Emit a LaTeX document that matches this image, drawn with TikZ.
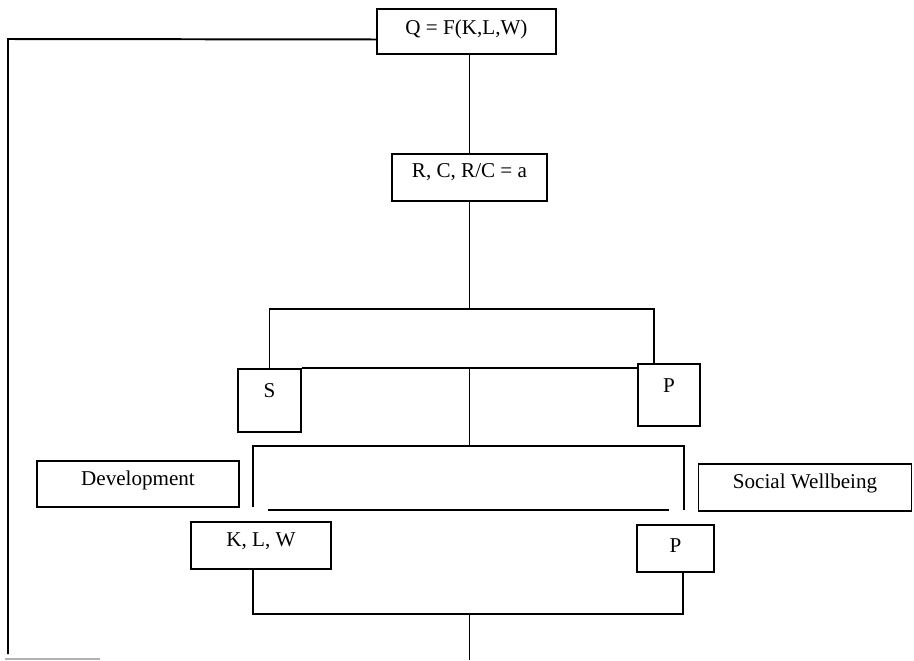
\documentclass[tikz,border=0pt]{standalone}
\usepackage{fontspec}
\setmainfont{Liberation Serif}
\usetikzlibrary{calc}
\tikzset{
	box/.style={draw, line width=1.4pt, inner sep=0pt, text height=10pt, font=\fontsize{15}{18}\selectfont},
	link/.style={line width=1.4pt},
}
\begin{document}
\begin{tikzpicture}[x=0.025cm,y=-0.025cm]
\def\u{0.025cm};
\def\ytop{309};
\def\ymid{446};
\def\ylow{614};
\useasboundingbox (0,0) rectangle (914,660);
	% boxes
	\node[box, minimum width=179*\u, minimum height=45*\u, text depth=6pt] (Q) at (466.5,31.5) {Q = F(K,L,W)};
	\node[box, minimum width=155*\u, minimum height=47*\u, text depth=10pt] (R) at (469.5,177.5) {R, C, R/C = a};
	\node[box, minimum width=63*\u, minimum height=63*\u, text depth=14pt] (S) at (269.5,400.5) {S};
	\node[box, minimum width=62*\u, minimum height=62*\u, text depth=14pt] (P1) at (669,395) {P};
	\node[box, minimum width=202*\u, minimum height=46*\u, text depth=8pt] (dev) at (138,484) {Development};
	\node[box, minimum width=213*\u, minimum height=47*\u, text depth=8pt] (soc) at (805,487.5) {Social Wellbeing};
	\node[box, minimum width=140*\u, minimum height=47*\u, text depth=8pt] (KLW) at (261,545.5) {K, L, W};
	\node[box, minimum width=77*\u, minimum height=47*\u, text depth=5pt] (P2) at (675.5,548.5) {P};
	% feedback line on the left
	\coordinate (corner) at (8,39);
	\coordinate (foot) at (8,654);
	\draw[link] ($(Q.south west)!0.33!(Q.north west)$) -- (corner) -- (foot);
	% trunk
	\draw[link] (R.north |- Q.south) -- (R.north);
	\draw[link] (R.south) -- (R.south |- 0,\ytop);
	\draw[link] (S.north) -- (S.north |- 0,\ytop) -- (654,\ytop) -- (654,0 |- P1.north);
	\draw[link] (S.north east) -- (S.north east -| P1.west);
	\draw[link] (R.south |- S.north) -- (R.south |- 0,\ymid);
	\draw[link] (253,507) -- (253,\ymid) -- (684,\ymid) -- (684,510);
	\draw[link] (268,510) -- (669,510);
	\draw[link] (253,0 |- KLW.south) -- (253,\ylow) -- (683,\ylow) -- (683,0 |- P2.south);
	\draw[link] (R.south |- 0,\ylow) -- (R.south |- 0,660);
	\draw[gray!60, line width=0.8pt] (5,659) -- (100,659);
\end{tikzpicture}
\end{document}
